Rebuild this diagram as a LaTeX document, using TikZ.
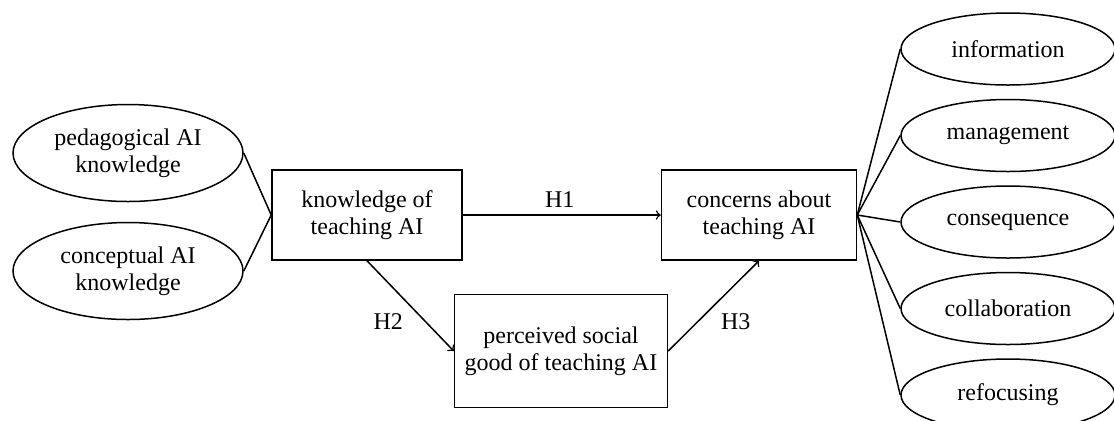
\documentclass[tikz,border=0pt]{standalone}
\usepackage{fontspec}
\setmainfont{Liberation Serif}
\usetikzlibrary{positioning, shapes.geometric}
\begin{document}
\begin{tikzpicture}[x=0.5pt, y=-0.5pt, node distance={99pt}, line width=0.75pt,
    font=\fontsize{12}{13.5}\selectfont,
    box/.style = {draw, align=center, inner sep=2pt},
    oval/.style = {draw, ellipse, align=center, inner sep=0pt}]
    \useasboundingbox (0,0) rectangle (1114,420);
    \node[oval, minimum width=115pt, minimum height=48.5pt] (1) at (128,153) {pedagogical AI\\knowledge};
    \node[oval, minimum width=115pt, minimum height=48.5pt] (2) at (128,271) {conceptual AI\\knowledge};
    \node[box, minimum width=95pt, minimum height=45pt] (3) at (367,215) {knowledge of\\teaching AI};
    \node[box, minimum width=97.5pt, minimum height=45pt] (4) [right=of 3] {concerns about\\teaching AI};
    \node[box, minimum width=106.5pt, minimum height=56.5pt] (5) at (561,351) {perceived social\\good of teaching AI};
    \node[oval, minimum width=107pt, minimum height=36pt] (6) at (1008,49) {information};
    \node[oval, minimum width=107pt, minimum height=36pt] (7) [below=6.5pt of 6] {management};
    \node[oval, minimum width=107pt, minimum height=36pt] (8) [below=6.5pt of 7] {consequence};
    \node[oval, minimum width=107pt, minimum height=36pt] (9) [below=6.5pt of 8] {collaboration};
    \node[oval, minimum width=107pt, minimum height=36pt] (10) [below=6.5pt of 9] {refocusing};
    %Measures
    \draw (1.east) -- (3.west);
    \draw (2.east) -- (3.west);
    \foreach \i in {6,...,10}
        \draw (4.east) -- (\i.west);
    %Hypotheses
    \draw[->] (3) to node[above, pos=0.49] {H1} (4);
    \draw[->] (3.south) to node[midway, below left] {H2} (5.west);
    \draw[->] (5.east) to node[midway, below right] {H3} (4.south);
\end{tikzpicture}
\end{document}
